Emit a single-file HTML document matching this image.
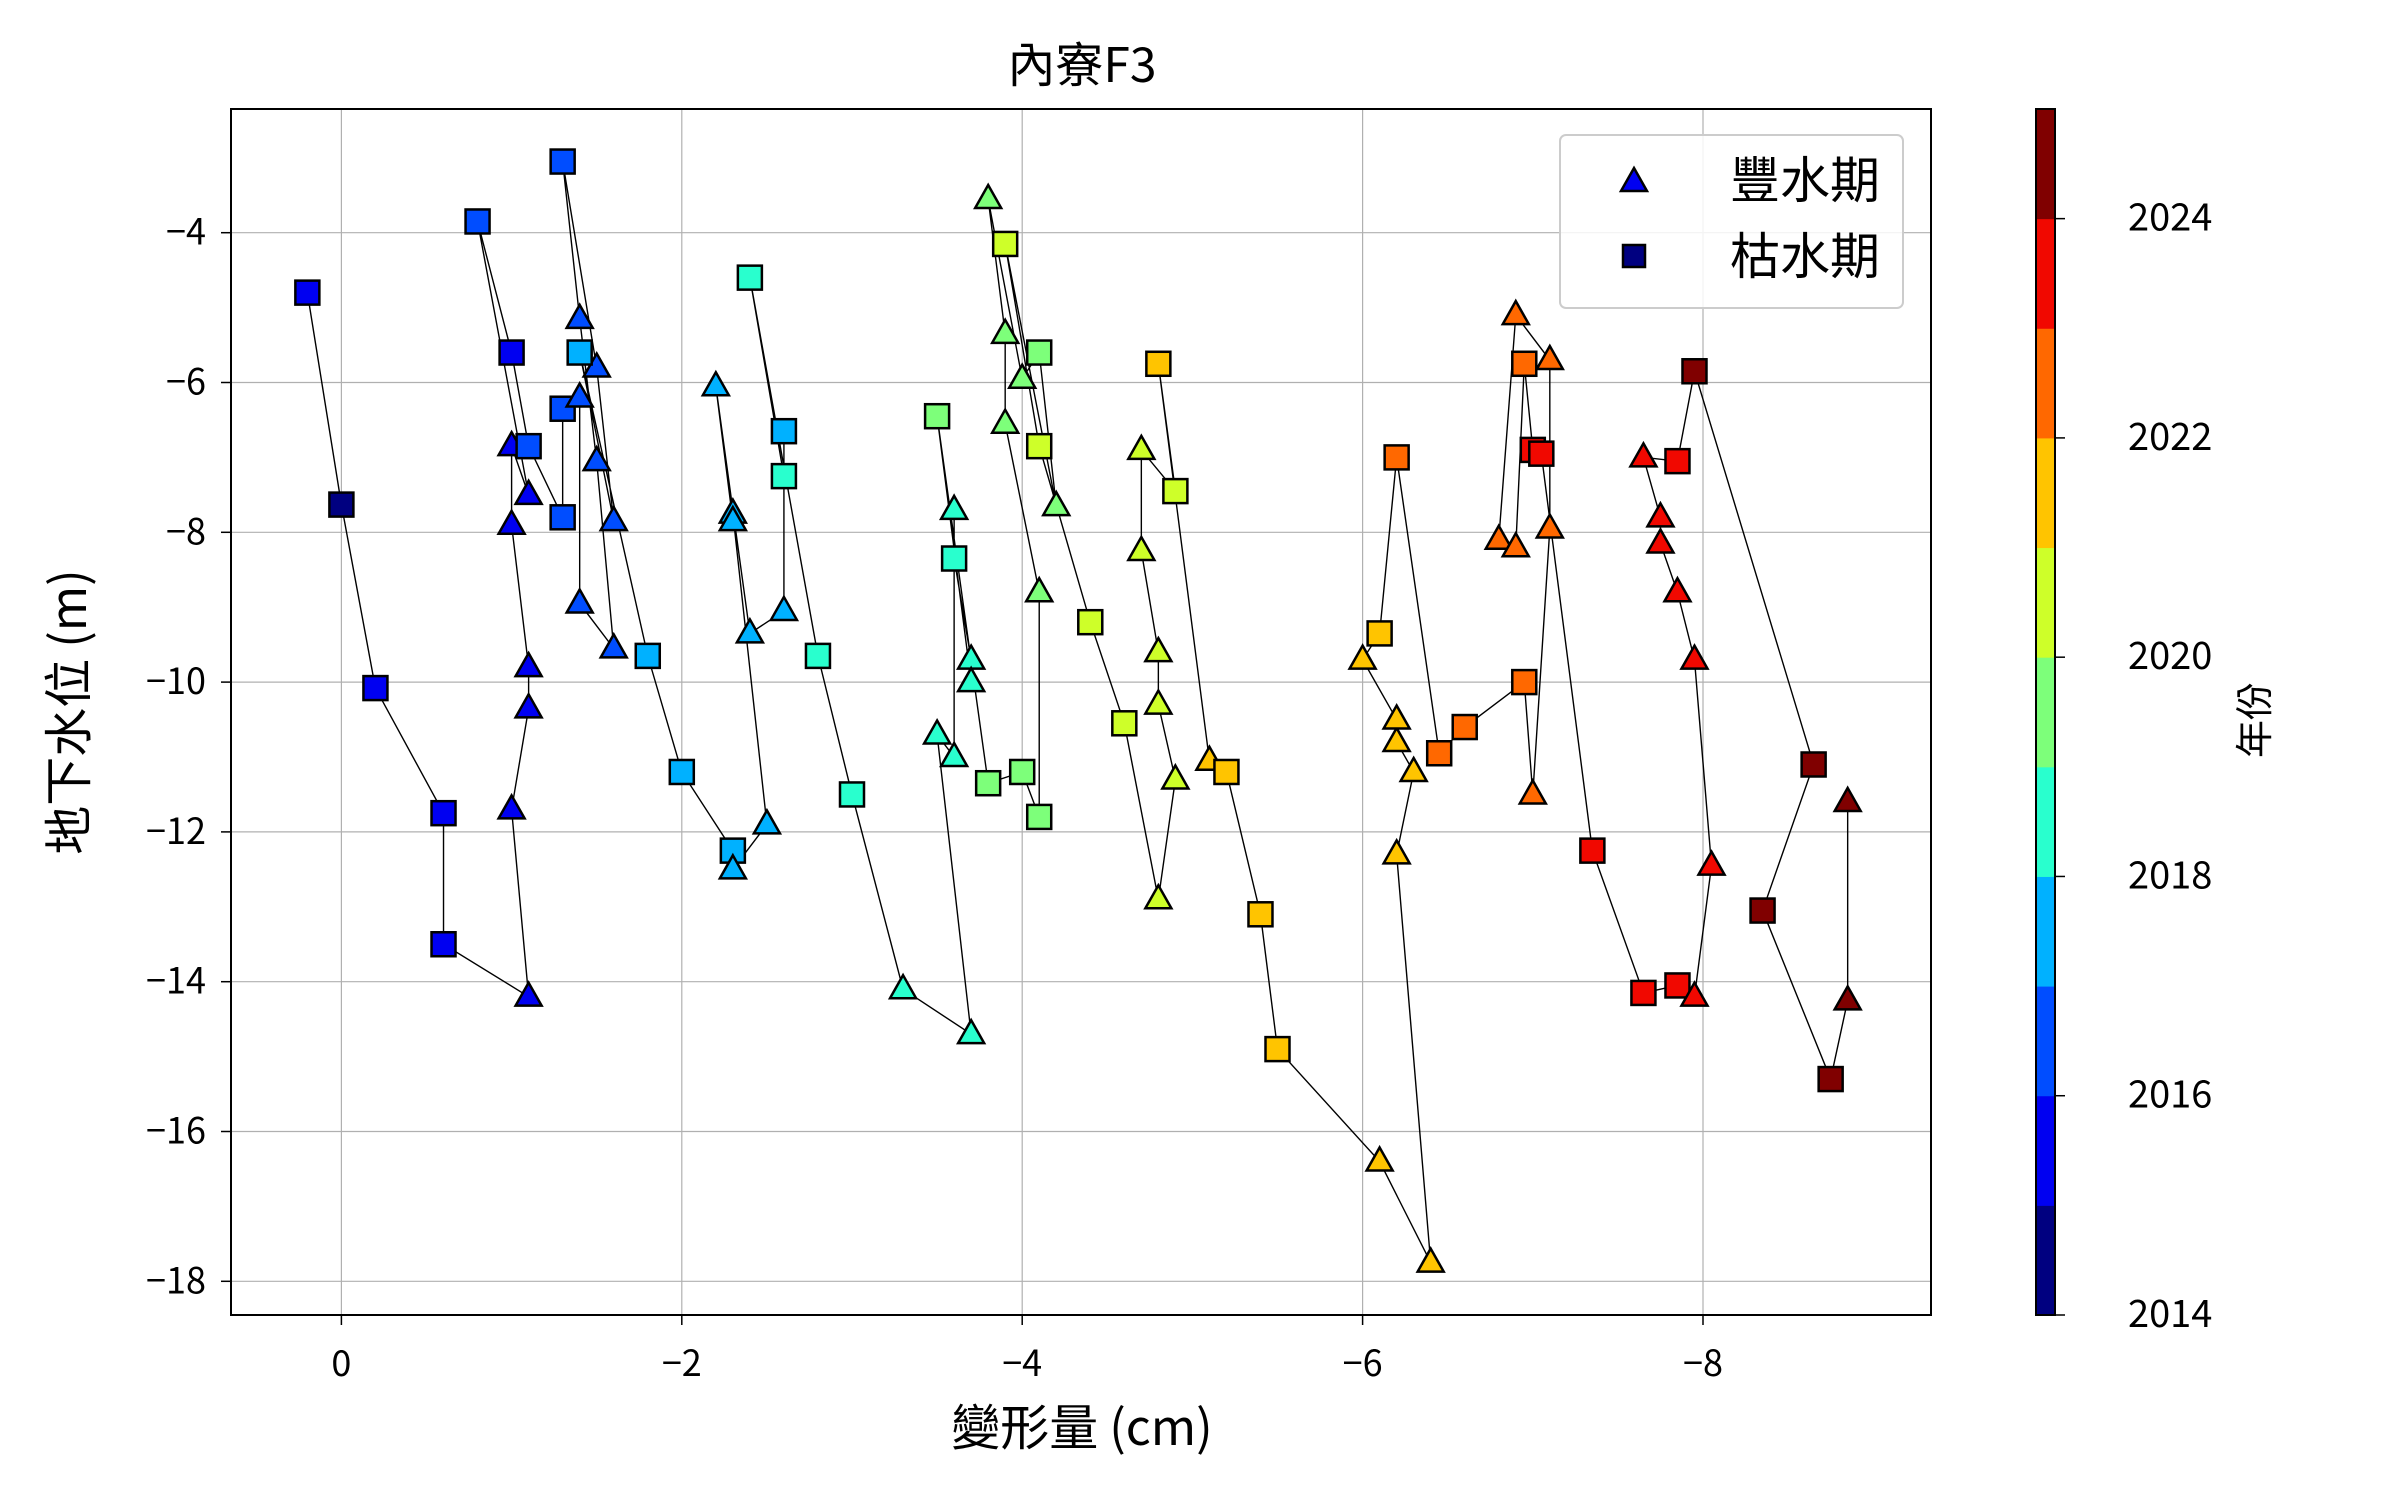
<!DOCTYPE html>
<html><head><meta charset="utf-8">
<style>
html,body{margin:0;padding:0;background:#fff;}
svg text{font-family:"Noto Sans CJK TC","Liberation Sans",sans-serif;fill:#000;}
</style></head>
<body>
<svg id="chart" width="2400" height="1500" viewBox="0 0 2400 1500" xmlns="http://www.w3.org/2000/svg">
<rect width="2400" height="1500" fill="#fff"/>
<text x="1082" y="82" font-size="48" text-anchor="middle">內寮F3</text>
<g id="grid"></g>
<g id="lines"></g>
<g id="marks"></g>
<rect x="231" y="109" width="1700" height="1206" fill="none" stroke="#000" stroke-width="2"/>
<g id="ticks"></g>
<text x="1082" y="1445" font-size="49" text-anchor="middle">變形量 (cm)</text>
<text transform="translate(86,712) rotate(-90)" font-size="49" text-anchor="middle">地下水位 (m)</text>
<g>
<rect x="1560" y="135" width="343" height="173" rx="6" fill="#fff" fill-opacity="0.85" stroke="#ccc" stroke-width="2"/>
<polygon points="1634,168 1647,191 1621,191" fill="#0000f1" stroke="#000" stroke-width="2.5"/>
<text x="1730" y="198" font-size="50">豐水期</text>
<rect x="1623" y="245" width="22" height="22" fill="#000080" stroke="#000" stroke-width="2.5"/>
<text x="1730" y="274" font-size="50">枯水期</text>
</g>
<g id="cbar"></g>
<text transform="translate(2268,720) rotate(-90)" font-size="38" text-anchor="middle">年份</text>
</svg>
<script>
const xTicks=[0,-2,-4,-6,-8];
const yTicks=[-4,-6,-8,-10,-12,-14,-16,-18];
const cbarTicks=[2014,2016,2018,2020,2022,2024];
const binColors=["#000080","#0000f1","#004dff","#00b1ff","#29ffce","#7dff7a","#ceff29","#ffc400","#ff6800","#f10800","#800000"];
const deform=[0.2,0,-0.2,-0.6,-0.6,-1.1,-1.0,-1.1,-1.1,-1.0,-1.0,-1.1,-0.8,-1.0,-1.1,-1.3,-1.3,-1.4,-1.4,-1.6,-1.5,-1.4,-1.3,-1.5,-1.6,
-1.4,-1.8,-2.0,-2.3,-2.3,-2.5,-2.3,-2.3,-2.2,-2.4,-2.6,-2.6,
-2.6,-2.4,-2.8,-3.0,-3.3,-3.7,-3.5,-3.6,-3.6,-3.6,-3.7,-3.7,
-3.5,-3.8,-4.0,-4.1,-4.1,-3.9,-3.9,-3.8,-4.0,-4.1,-4.2,
-3.9,-4.1,-4.4,-4.6,-4.8,-4.9,-4.8,-4.8,-4.7,-4.7,-4.9,
-4.8,-5.1,-5.2,-5.4,-5.5,-6.1,-6.4,-6.2,-6.3,-6.2,-6.2,-6.0,-6.1,
-6.2,-6.45,-6.6,-6.95,-7.0,-7.1,-7.1,-6.9,-6.8,-6.9,-6.95,
-7.0,-7.05,-7.35,-7.65,-7.85,-7.95,-8.05,-7.95,-7.85,-7.75,-7.75,-7.65,-7.85,
-7.95,-8.65,-8.35,-8.75,-8.85,-8.85];
const level=[-4.8,-7.63,-10.08,-11.75,-13.5,-14.2,-11.7,-10.35,-9.8,-7.9,-6.85,-7.5,-3.85,-5.6,-6.85,-7.8,-6.35,-6.2,-8.95,-9.55,-7.05,-5.15,-3.05,-5.8,-7.85,
-5.6,-9.65,-11.2,-12.25,-12.5,-11.9,-7.75,-7.85,-6.05,-9.35,-9.05,-6.65,
-7.25,-4.6,-9.65,-11.5,-14.1,-14.7,-10.7,-11.0,-7.7,-8.35,-9.7,-10.0,
-6.45,-11.35,-11.2,-11.8,-8.8,-6.55,-5.35,-3.55,-5.95,-5.6,-7.65,
-4.15,-6.85,-9.2,-10.55,-12.9,-11.3,-10.3,-9.6,-8.25,-6.9,-7.45,
-5.75,-11.05,-11.2,-13.1,-14.9,-16.4,-17.75,-12.3,-11.2,-10.8,-10.5,-9.7,-9.35,
-7.0,-10.95,-10.6,-10.0,-11.5,-7.95,-5.7,-5.1,-8.1,-8.2,-5.75,
-6.9,-6.95,-12.25,-14.15,-14.05,-14.2,-12.45,-9.7,-8.8,-8.15,-7.8,-7.0,-7.05,
-5.85,-11.1,-13.05,-15.3,-14.25,-11.6];
const years=[2015,2014,2015,2015,2015,2015,2015,2015,2015,2015,2015,2015,2016,2015,2016,2016,2016,2016,2016,2016,2016,2016,2016,2016,2016,
2017,2017,2017,2017,2017,2017,2017,2017,2017,2017,2017,2017,
2018,2018,2018,2018,2018,2018,2018,2018,2018,2018,2018,2018,
2019,2019,2019,2019,2019,2019,2019,2019,2019,2019,2019,
2020,2020,2020,2020,2020,2020,2020,2020,2020,2020,2020,
2021,2021,2021,2021,2021,2021,2021,2021,2021,2021,2021,2021,2021,
2022,2022,2022,2022,2022,2022,2022,2022,2022,2022,2022,
2023,2023,2023,2023,2023,2023,2023,2023,2023,2023,2023,2023,2023,
2024,2024,2024,2024,2024,2024];
const season=["S","S","S","S","S","T","T","T","T","T","T","T","S","S","S","S","S","T","T","T","T","T","S","T","T",
"S","S","S","S","T","T","T","T","T","T","T","S",
"S","S","S","S","T","T","T","T","T","S","T","T",
"S","S","S","S","T","T","T","T","T","S","T",
"S","S","S","S","T","T","T","T","T","T","S",
"S","T","S","S","S","T","T","T","T","T","T","T","S",
"S","S","S","S","T","T","T","T","T","T","S",
"S","S","S","S","S","T","T","T","T","T","T","T","S",
"S","S","S","S","T","T"];
const NS="http://www.w3.org/2000/svg";
const X=v=>341.4+(-v)*170.2;
const Y=v=>232.7+(-4-v)*74.9;
const CB0=1315,CB1=109;
const CY=yr=>CB0-(yr-2014)*((CB0-CB1)/11);
function mk(tag,attrs,parent){const e=document.createElementNS(NS,tag);for(const k in attrs)e.setAttribute(k,attrs[k]);parent.appendChild(e);return e;}
const grid=document.getElementById('grid'),ticks=document.getElementById('ticks');
xTicks.forEach(t=>{
 const g=mk('line',{x1:X(t),x2:X(t),y1:109,y2:1315,stroke:'#b0b0b0','stroke-width':1.2},grid);
 
 
 mk('line',{x1:X(t),x2:X(t),y1:1315,y2:1325,stroke:'#000','stroke-width':1.5},ticks);
 const tx=mk('text',{x:X(t),y:1376,'font-size':36,'text-anchor':'middle'},ticks);
 tx.textContent=t===0?'0':'\u2212'+Math.abs(t);
 
 
});
yTicks.forEach(t=>{
 const g=mk('line',{x1:231,x2:1931,y1:Y(t),y2:Y(t),stroke:'#b0b0b0','stroke-width':1.2},grid);
 
 
 mk('line',{x1:221,x2:231,y1:Y(t),y2:Y(t),stroke:'#000','stroke-width':1.5},ticks);
 const tx=mk('text',{x:206,y:Y(t)+12,'font-size':36,'text-anchor':'end'},ticks);
 tx.textContent='\u2212'+Math.abs(t);
 
 
});
const pts=deform.map((d,i)=>X(d)+','+Y(level[i])).join(' ');
const pl=mk('polyline',{points:pts,fill:'none',stroke:'#000','stroke-width':1.4},document.getElementById('lines'));


const marks=document.getElementById('marks');
const col=yr=>binColors[Math.max(0,Math.min(10,Math.floor(yr-2014)))];
deform.forEach((d,i)=>{
 const cx=X(d),cy=Y(level[i]),c=col(years[i]);let e;
 if(season[i]==='T'){e=mk('polygon',{points:`${cx},${cy-14} ${cx+13},${cy+9} ${cx-13},${cy+9}`,fill:c,stroke:'#000','stroke-width':2.5},marks);
  }
 else{e=mk('rect',{x:cx-12,y:cy-12,width:24,height:24,fill:c,stroke:'#000','stroke-width':2.5},marks);
  }
 
});
const cb=document.getElementById('cbar');
binColors.forEach((c,i)=>{
 const r=mk('rect',{x:2036,y:CY(2015+i),width:19,height:(CB0-CB1)/11+0.5,fill:c},cb);
 
 
});
mk('rect',{x:2036,y:109,width:19,height:1206,fill:'none',stroke:'#000','stroke-width':2},cb);
cbarTicks.forEach(t=>{
 mk('line',{x1:2055,x2:2065,y1:CY(t),y2:CY(t),stroke:'#000','stroke-width':1.5},cb);
 const tx=mk('text',{x:2128,y:CY(t)+12,'font-size':38,'text-anchor':'start'},cb);
 tx.textContent=t;
 
 
});
</script>
</body></html>
